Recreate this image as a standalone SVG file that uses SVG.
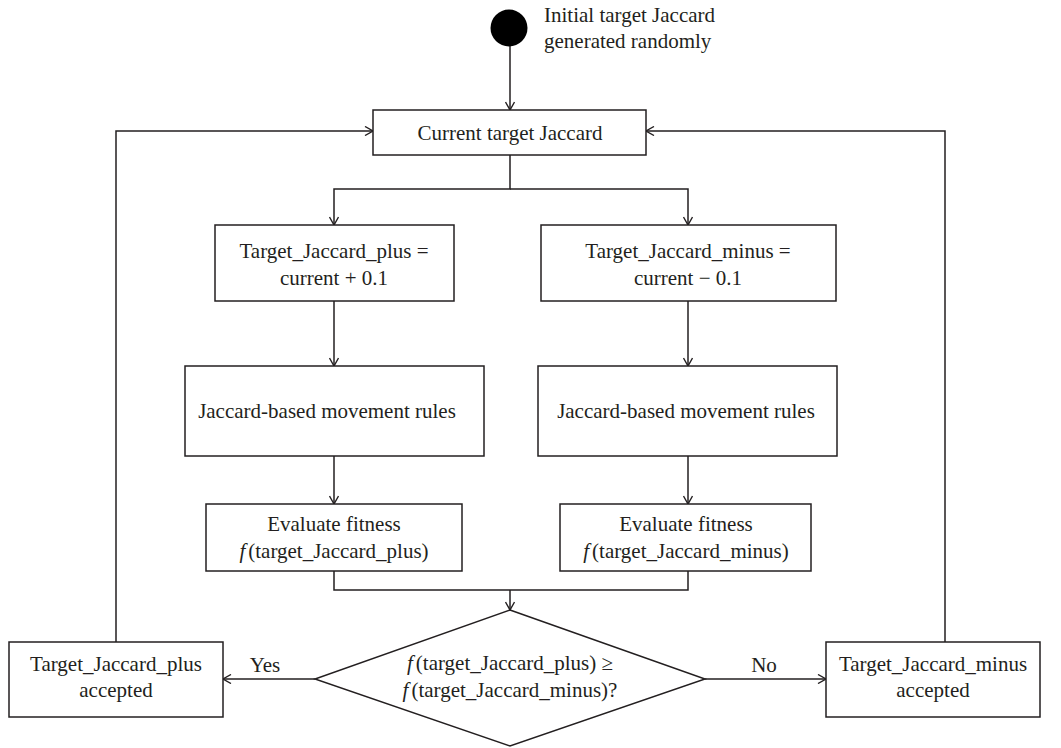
<svg xmlns="http://www.w3.org/2000/svg" width="1061" height="748" viewBox="0 0 1061 748">
  <style>
    .box { fill: #fff; stroke: #231f20; stroke-width: 1.5; }
    .wire { fill: none; stroke: #231f20; stroke-width: 1.5; }
    .lbl { font-family: "Liberation Serif", "Times New Roman", serif; font-size: 21px; fill: #231f20; text-anchor: middle; }
    .it { font-style: italic; }
  </style>
  <defs>
    <marker id="arrow" viewBox="0 0 10 10" refX="9" refY="5" markerWidth="10" markerHeight="10" markerUnits="userSpaceOnUse" orient="auto">
      <path d="M1,0.5 L9,5 L1,9.5" fill="none" stroke="#231f20" stroke-width="1.4"/>
    </marker>
  </defs>
  <rect width="1061" height="748" fill="#fff"/>

  <!-- connectors -->
  <g id="connectors" class="wire">
    <path d="M510,46 V110" marker-end="url(#arrow)"/>
    <path d="M510,155 V189 H334 V225" marker-end="url(#arrow)"/>
    <path d="M510,189 H688 V225" marker-end="url(#arrow)"/>
    <path d="M334,301 V366" marker-end="url(#arrow)"/>
    <path d="M688,301 V366" marker-end="url(#arrow)"/>
    <path d="M334,456 V504" marker-end="url(#arrow)"/>
    <path d="M688,456 V504" marker-end="url(#arrow)"/>
    <path d="M334,571 V590 H688 V571"/>
    <path d="M510,590 V610" marker-end="url(#arrow)"/>
    <path d="M315,679 H223" marker-end="url(#arrow)"/>
    <path d="M705,679 H826" marker-end="url(#arrow)"/>
    <path d="M116,642 V131 H373" marker-end="url(#arrow)"/>
    <path d="M945,642 V131 H646" marker-end="url(#arrow)"/>
  </g>

  <!-- edge labels -->
  <g id="edge-labels">
    <text class="lbl" x="265" y="672">Yes</text>
    <text class="lbl" x="764" y="672">No</text>
  </g>

  <g id="start">
    <circle cx="509" cy="28" r="18.5" fill="#000"/>
    <text class="lbl" x="544" y="22" style="text-anchor:start">Initial target Jaccard</text>
    <text class="lbl" x="544" y="48" style="text-anchor:start">generated randomly</text>
  </g>

  <g id="current">
    <rect class="box" x="373" y="110" width="273" height="45"/>
    <text class="lbl" x="510" y="140">Current target Jaccard</text>
  </g>

  <g id="plus">
    <rect class="box" x="215" y="225" width="239" height="76"/>
    <text class="lbl" x="334" y="258">Target_Jaccard_plus =</text>
    <text class="lbl" x="334" y="285">current + 0.1</text>
  </g>

  <g id="minus">
    <rect class="box" x="541" y="225" width="295" height="76"/>
    <text class="lbl" x="688" y="258">Target_Jaccard_minus =</text>
    <text class="lbl" x="688" y="285">current − 0.1</text>
  </g>

  <g id="rules-plus">
    <rect class="box" x="185" y="366" width="299" height="90"/>
    <text class="lbl" x="327" y="418">Jaccard-based movement rules</text>
  </g>

  <g id="rules-minus">
    <rect class="box" x="538" y="366" width="299" height="90"/>
    <text class="lbl" x="686" y="418">Jaccard-based movement rules</text>
  </g>

  <g id="eval-plus">
    <rect class="box" x="206" y="504" width="256" height="67"/>
    <text class="lbl" x="334" y="531">Evaluate fitness</text>
    <text class="lbl" x="334" y="558"><tspan class="it">f</tspan><tspan dx="3">(target_Jaccard_plus)</tspan></text>
  </g>

  <g id="eval-minus">
    <rect class="box" x="560" y="504" width="251" height="67"/>
    <text class="lbl" x="686" y="531">Evaluate fitness</text>
    <text class="lbl" x="686" y="558"><tspan class="it">f</tspan><tspan dx="3">(target_Jaccard_minus)</tspan></text>
  </g>

  <g id="decision">
    <polygon class="box" points="510,610 705,679 510,746 315,679"/>
    <text class="lbl" x="510" y="670"><tspan class="it">f</tspan><tspan dx="3">(target_Jaccard_plus) ≥</tspan></text>
    <text class="lbl" x="510" y="697"><tspan class="it">f</tspan><tspan dx="3">(target_Jaccard_minus)?</tspan></text>
  </g>

  <g id="accept-plus">
    <rect class="box" x="9" y="642" width="214" height="75"/>
    <text class="lbl" x="116" y="671">Target_Jaccard_plus</text>
    <text class="lbl" x="116" y="697">accepted</text>
  </g>

  <g id="accept-minus">
    <rect class="box" x="826" y="642" width="214" height="75"/>
    <text class="lbl" x="933" y="671">Target_Jaccard_minus</text>
    <text class="lbl" x="933" y="697">accepted</text>
  </g>
</svg>
